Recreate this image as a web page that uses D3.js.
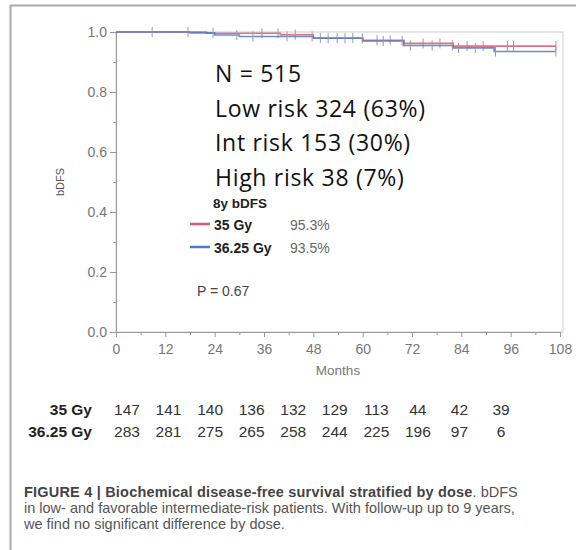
<!DOCTYPE html>
<html>
<head>
<meta charset="utf-8">
<script src="https://cdn.jsdelivr.net/npm/d3@7"></script>
<style>
  body { margin: 0; background: #fff; }
  svg { display: block; }
</style>
</head>
<body>
<div id="chart"></div>
<script>
// Kaplan-Meier steps: [month, survival]
const redSteps = [[0, 1.0], [22, 0.996], [40, 0.991], [48, 0.98], [60, 0.972], [70, 0.962], [82, 0.953], [107, 0.953]];
const blueSteps = [[0, 1.0], [18, 0.997], [24, 0.99], [30, 0.985], [48, 0.979], [60, 0.97], [70, 0.955], [82, 0.947], [92, 0.935], [107, 0.935]];
const redCensor = [35.5, 39.4, 43.6, 49.7, 53.8, 57.6, 63.5, 66.7, 74.7, 78.8, 85.4, 89.3, 95.2, 96.7, 107];
const blueCensor = [8.8, 17.5, 23.6, 29.4, 33.3, 41.6, 47.7, 51.6, 55.7, 59.9, 65, 69.6, 71.6, 76.9, 81.8, 83.3, 87.4, 92.3, 107];

const xTicks = [0, 12, 24, 36, 48, 60, 72, 84, 96, 108];
const yTicks = [0, 0.2, 0.4, 0.6, 0.8, 1.0];

const groups = ['35 Gy', '36.25 Gy'];
const groupColors = ['#e0536f', '#4f79d0'];
const bdfs8y = ['95.3%', '93.5%'];
const atRisk35 = [147, 141, 140, 136, 132, 129, 113, 44, 42, 39];
const atRisk3625 = [283, 281, 275, 265, 258, 244, 225, 196, 97, 6];

const infoLines = ['N = 515', 'Low risk 324 (63%)', 'Int risk 153 (30%)', 'High risk 38 (7%)'];

const W = 576, H = 550;
const svg = d3.select('#chart').append('svg').attr('width', W).attr('height', H);
const lf = 'Liberation Sans, Arial, sans-serif';

// outer frame (top and left)
svg.append('path')
  .attr('d', `M10.5,${H} V5.5 H${W}`)
  .attr('fill', 'none').attr('stroke', '#aaa').attr('stroke-width', 2);

const x = d3.scaleLinear().domain([0, 108]).range([116, 560]);
const y = d3.scaleLinear().domain([0, 1]).range([332, 32]);

// plot frame
svg.append('rect')
  .attr('x', x(0)).attr('y', y(1))
  .attr('width', 563 - x(0)).attr('height', y(0) - y(1))
  .attr('fill', 'none').attr('stroke', '#cfcfcf');

const axisColor = '#999';
const tickText = '#777';

// x axis
const gx = svg.append('g').attr('transform', `translate(0,${y(0)})`)
  .call(d3.axisBottom(x).tickValues(d3.range(6, 108, 12)).tickSize(3).tickFormat(''));
const gxMaj = svg.append('g').attr('transform', `translate(0,${y(0)})`)
  .call(d3.axisBottom(x).tickValues(xTicks).tickSize(5).tickPadding(7).tickFormat(d3.format('d')));

// y axis
const gyMin = svg.append('g').attr('transform', `translate(${x(0)},0)`)
  .call(d3.axisLeft(y).tickValues([0.1, 0.3, 0.5, 0.7, 0.9]).tickSize(3).tickFormat(''));
const gy = svg.append('g').attr('transform', `translate(${x(0)},0)`)
  .call(d3.axisLeft(y).tickValues(yTicks).tickSize(6).tickPadding(3).tickFormat(d3.format('.1f')));

[gx, gxMaj, gyMin, gy].forEach(g => {
  g.select('.domain').attr('stroke', axisColor);
  g.selectAll('.tick line').attr('stroke', axisColor);
  g.selectAll('text').attr('fill', tickText).attr('font-family', lf).attr('font-size', 14);
});

svg.append('text')
  .attr('transform', `translate(64,${(y(0) + y(1)) / 2}) rotate(-90)`)
  .attr('text-anchor', 'middle')
  .attr('font-family', lf).attr('font-size', 11)
  .attr('fill', '#555').text('bDFS');

svg.append('text')
  .attr('x', x(54)).attr('y', 375)
  .attr('text-anchor', 'middle')
  .attr('font-family', lf).attr('font-size', 13.5)
  .attr('fill', '#777').text('Months');

// survival curves
const line = d3.line().x(d => x(d[0])).y(d => y(d[1])).curve(d3.curveStepAfter);
function survAt(steps, t) {
  let s = steps[0][1];
  steps.forEach(d => { if (d[0] <= t) s = d[1]; });
  return s;
}
function drawCurve(steps, censor, color) {
  svg.append('path').datum(steps)
    .attr('d', line).attr('fill', 'none')
    .attr('stroke', color).attr('stroke-width', 1.6).attr('stroke-opacity', 0.85);
  svg.selectAll(null).data(censor).enter().append('line')
    .attr('x1', d => x(d)).attr('x2', d => x(d))
    .attr('y1', d => y(survAt(steps, d)) - 5)
    .attr('y2', d => y(survAt(steps, d)) + 5)
    .attr('stroke', '#9a9a9a').attr('stroke-width', 1);
}
drawCurve(redSteps, redCensor, groupColors[0]);
drawCurve(blueSteps, blueCensor, groupColors[1]);

// big annotation text
svg.append('g').selectAll('text').data(infoLines).enter().append('text')
  .attr('x', 215).attr('y', (d, i) => 82 + i * 34.5)
  .attr('font-family', 'Open Sans, sans-serif').attr('font-size', 23)
  .attr('letter-spacing', 0.7)
  .attr('fill', '#111').text(d => d);

// legend
svg.append('text').attr('x', 213).attr('y', 208)
  .attr('font-family', lf).attr('font-size', 13.5).attr('font-weight', 'bold')
  .attr('fill', '#222').text('8y bDFS');
const leg = svg.append('g').selectAll('g').data(groups).enter().append('g')
  .attr('transform', (d, i) => `translate(0,${224 + i * 23})`);
leg.append('line').attr('x1', 190).attr('x2', 210)
  .attr('stroke', (d, i) => groupColors[i]).attr('stroke-width', 2.5);
leg.append('text').attr('x', 214).attr('y', 5.5)
  .attr('font-family', lf).attr('font-size', 14).attr('font-weight', 'bold')
  .attr('fill', '#222').text(d => d);
leg.append('text').attr('x', 290).attr('y', 5.5)
  .attr('font-family', lf).attr('font-size', 14)
  .attr('fill', '#666').text((d, i) => bdfs8y[i]);

svg.append('text').attr('x', 197).attr('y', 296)
  .attr('font-family', lf).attr('font-size', 14)
  .attr('fill', '#444').text('P = 0.67');

// number at risk table
const col = d3.scalePoint().domain(d3.range(atRisk35.length)).range([127, 501]);
[atRisk35, atRisk3625].forEach((row, r) => {
  const ry = 415 + r * 22;
  svg.append('text').attr('x', 92).attr('y', ry).attr('text-anchor', 'end')
    .attr('font-family', lf).attr('font-size', 15.5).attr('font-weight', 'bold')
    .attr('fill', '#222').text(groups[r]);
  svg.append('g').selectAll('text').data(row).enter().append('text')
    .attr('x', (d, i) => col(i)).attr('y', ry).attr('text-anchor', 'middle')
    .attr('font-family', lf).attr('font-size', 15.5)
    .attr('fill', '#333').text(d => d);
});

// caption
const cap = svg.append('g').attr('font-family', lf).attr('font-size', 14.5).attr('fill', '#555');
const c1 = cap.append('text').attr('x', 24).attr('y', 497);
c1.append('tspan').attr('font-weight', 'bold').attr('fill', '#444').attr('letter-spacing', 0.2)
  .text('FIGURE 4 | Biochemical disease-free survival stratified by dose');
c1.append('tspan').text('. bDFS');
cap.append('text').attr('x', 24).attr('y', 513).text('in low- and favorable intermediate-risk patients. With follow-up up to 9 years,');
cap.append('text').attr('x', 24).attr('y', 529).text('we find no significant difference by dose.');
</script>
</body>
</html>
